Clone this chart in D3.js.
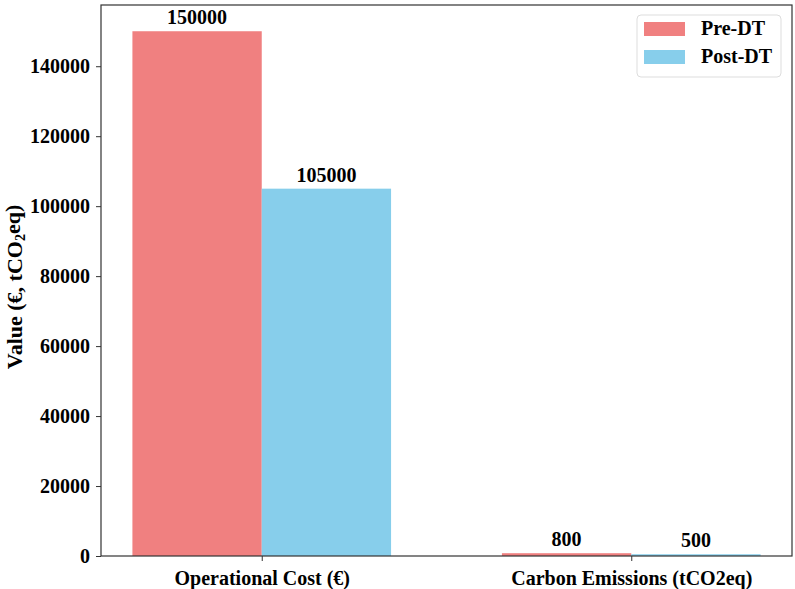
<!DOCTYPE html>
<html>
<head>
<meta charset="utf-8">
<script src="https://cdn.jsdelivr.net/npm/d3@7"></script>
<style>
  body { margin: 0; background: #fff; }
  text { font-family: "Liberation Serif", "Times New Roman", serif; font-weight: bold; fill: #000; }
</style>
</head>
<body>
<div id="chart"></div>
<script>
// Data
var categories = ["Operational Cost (€)", "Carbon Emissions (tCO2eq)"];
var preDT = [150000, 800];
var postDT = [105000, 500];
var seriesNames = ["Pre-DT", "Post-DT"];
var yTicks = [0, 20000, 40000, 60000, 80000, 100000, 120000, 140000];

var svgWidth = 795;
var svgHeight = 589;

var margin = { top: 5, right: 3, bottom: 33, left: 101 };
var chartWidth = svgWidth - margin.left - margin.right;
var chartHeight = svgHeight - margin.top - margin.bottom;

var barWidth = 0.35;
var colors = ["#F08080", "#87CEEB"];

var svg = d3.select("#chart")
  .append("svg")
  .attr("width", svgWidth)
  .attr("height", svgHeight);

var chartGroup = svg.append("g")
  .attr("transform", `translate(${margin.left}, ${margin.top})`);

// x positions like matplotlib: category i at i, bars on either side
var xScale = d3.scaleLinear()
  .domain([-0.435, 1.435])
  .range([0, chartWidth]);

var yScale = d3.scaleLinear()
  .domain([0, 157500])
  .range([chartHeight, 0]);

// bars
var series = [preDT, postDT];
series.forEach(function(values, s) {
  chartGroup.selectAll(".bar" + s)
    .data(values)
    .enter()
    .append("rect")
    .attr("x", (d, i) => xScale(i + (s === 0 ? -barWidth : 0)))
    .attr("width", xScale(barWidth) - xScale(0))
    .attr("y", d => yScale(d))
    .attr("height", d => chartHeight - yScale(d))
    .attr("fill", colors[s]);

  chartGroup.selectAll(".label" + s)
    .data(values)
    .enter()
    .append("text")
    .attr("x", (d, i) => xScale(i + (s === 0 ? -barWidth / 2 : barWidth / 2)))
    .attr("y", d => yScale(d) - 7)
    .attr("text-anchor", "middle")
    .style("font-size", "20px")
    .text(d => d);
});

// axes
var leftAxis = d3.axisLeft(yScale)
  .tickValues(yTicks)
  .tickSize(5)
  .tickPadding(6)
  .tickFormat(d3.format("d"));

var bottomAxis = d3.axisBottom(xScale)
  .tickValues([0, 1])
  .tickSize(5)
  .tickPadding(6)
  .tickFormat((d, i) => categories[i]);

var yAxisG = chartGroup.append("g").call(leftAxis);
var xAxisG = chartGroup.append("g")
  .attr("transform", `translate(0, ${chartHeight})`)
  .call(bottomAxis);

[yAxisG, xAxisG].forEach(function(g) {
  g.select(".domain").remove();
  g.selectAll("line").attr("stroke", "#333");
  g.selectAll("text")
    .style("font-size", "20px")
    .style("font-family", "'Liberation Serif', serif")
    .style("font-weight", "bold")
    .attr("fill", "#000");
});
xAxisG.selectAll("text").attr("dy", "0.9em");

// frame
chartGroup.append("rect")
  .attr("width", chartWidth)
  .attr("height", chartHeight)
  .attr("fill", "none")
  .attr("stroke", "#333")
  .attr("stroke-width", 1.2);

// y label
var yLabel = svg.append("text")
  .attr("transform", "translate(22, 287) rotate(-90)")
  .attr("text-anchor", "middle")
  .style("font-size", "22px");
yLabel.append("tspan").text("Value (€, tCO");
yLabel.append("tspan").attr("dy", "0.2em").style("font-size", "14px").text("2");
yLabel.append("tspan").attr("dy", "-0.2em").text("eq)");

// legend
var legend = svg.append("g").attr("transform", "translate(637, 15)");
legend.append("rect")
  .attr("width", 144)
  .attr("height", 62)
  .attr("rx", 4)
  .attr("fill", "#fff")
  .attr("stroke", "#ddd");

seriesNames.forEach(function(name, i) {
  legend.append("rect")
    .attr("x", 7)
    .attr("y", 7 + i * 28)
    .attr("width", 41)
    .attr("height", 14)
    .attr("fill", colors[i]);
  legend.append("text")
    .attr("x", 64)
    .attr("y", 20 + i * 28)
    .style("font-size", "20px")
    .text(name);
});
</script>
</body>
</html>
